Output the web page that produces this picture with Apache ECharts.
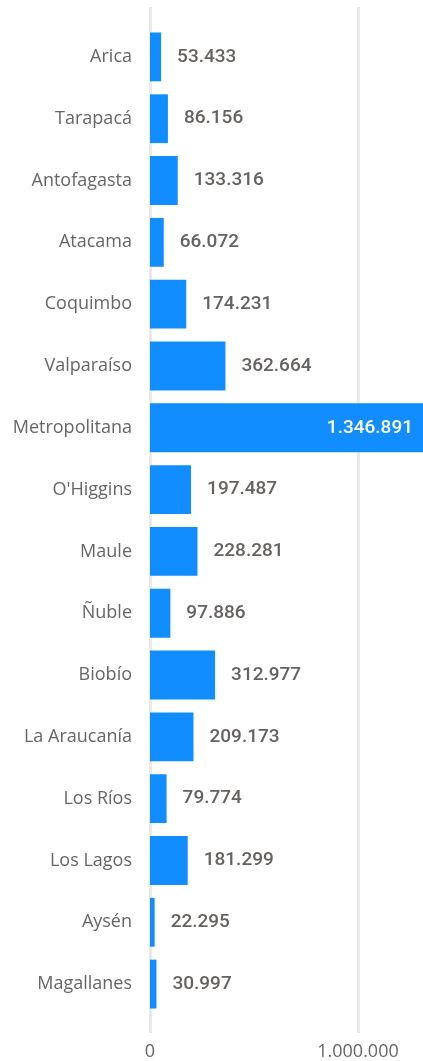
<!DOCTYPE html>
<html>
<head>
<meta charset="utf-8">
<script src="https://cdn.jsdelivr.net/npm/echarts@6/dist/echarts.min.js"></script>
<style>
  html, body { margin: 0; padding: 0; background: #ffffff; overflow: hidden; }
  #chart { width: 423px; height: 1061px; }
</style>
</head>
<body>
<div id="chart"></div>
<script>
// regiones de Chile
const regiones = [
  "Arica", "Tarapacá", "Antofagasta", "Atacama", "Coquimbo", "Valparaíso",
  "Metropolitana", "O'Higgins", "Maule", "Ñuble", "Biobío", "La Araucanía",
  "Los Ríos", "Los Lagos", "Aysén", "Magallanes"
];
const valores = [
  53433, 86156, 133316, 66072, 174231, 362664,
  1346891, 197487, 228281, 97886, 312977, 209173,
  79774, 181299, 22295, 30997
];
const ejeTicks = [0, 1000000];

const ejeMax = 1312500; // borde derecho del grafico

function fmt(v) {
  return String(v).replace(/\B(?=(\d{3})+(?!\d))/g, ".");
}

const datos = valores.map(v => {
  if (v > ejeMax) {
    // la barra se sale del grafico: etiqueta dentro, en blanco
    return { value: v, label: { position: "insideRight", color: "#ffffff", distance: 10 } };
  }
  return v;
});

const myChart = echarts.init(document.getElementById("chart"));

myChart.setOption({
  animation: false,
  grid: [
    { left: 150, right: 0, top: 26, bottom: 46 },
    // solo para las lineas verticales y etiquetas del eje
    { left: 150, right: 0, top: 7, bottom: 26 }
  ],
  xAxis: [
    {
      gridIndex: 0,
      type: "value",
      min: 0,
      max: ejeMax,
      show: false
    },
    {
      gridIndex: 1,
      type: "value",
      min: 0,
      max: ejeMax,
      interval: ejeTicks[1] - ejeTicks[0],
      axisLine: { show: false },
      axisTick: { show: false },
      splitLine: {
        show: true,
        showMaxLine: false,
        lineStyle: { color: "#e9e9e9", width: 3 }
      },
      axisLabel: {
        margin: 10,
        showMaxLabel: false,
        color: "#666666",
        fontFamily: "Open Sans",
        fontSize: 18,
        formatter: v => fmt(v)
      }
    }
  ],
  yAxis: [
    {
      gridIndex: 0,
      type: "category",
      inverse: true,
      data: regiones,
      axisLine: { show: false },
      axisTick: { show: false },
      axisLabel: {
        margin: 18,
        color: "#666666",
        fontFamily: "Open Sans",
        fontSize: 18
      }
    },
    {
      gridIndex: 1,
      type: "value",
      min: 0,
      max: 1,
      show: false
    }
  ],
  series: [
    {
      type: "bar",
      xAxisIndex: 0,
      yAxisIndex: 0,
      data: datos,
      barCategoryGap: "21%",
      z: 3,
      itemStyle: { color: "#118dff" },
      label: {
        show: true,
        position: "right",
        distance: 16,
        color: "#66625f",
        fontFamily: "Roboto",
        fontWeight: 500,
        fontSize: 19,
        formatter: p => fmt(p.value)
      }
    }
  ]
});
</script>
</body>
</html>
